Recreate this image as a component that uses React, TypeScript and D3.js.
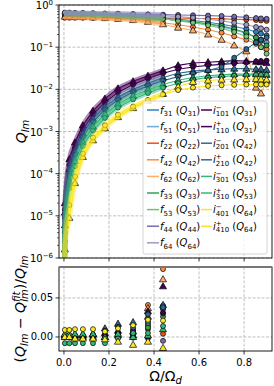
import React from "react";
import * as d3 from "d3";

// sampled rotation rates
const OMEGA = [0.004, 0.024, 0.049, 0.084, 0.129, 0.182, 0.24, 0.307, 0.373, 0.44, 0.507, 0.573, 0.64, 0.7, 0.756, 0.81, 0.853, 0.875, 0.9];
const FIT_MAX = 0.44;
const FIT_FLOOR = 1e-9;

// Q_lm of f modes
const Q_F31 = [0.6, 0.6, 0.6, 0.59, 0.58, 0.57, 0.56, 0.54, 0.52, 0.49, 0.46, 0.43, 0.39, 0.35, 0.31, 0.27, 0.23, 0.21, 0.19];
const Q_F51 = [0.62, 0.62, 0.61, 0.61, 0.6, 0.58, 0.56, 0.54, 0.51, 0.47, 0.43, 0.39, 0.35, 0.3, 0.26, 0.21, 0.17, 0.15, 0.13];
const Q_F22 = [0.5, 0.5, 0.5, 0.5, 0.5, 0.5, 0.5, 0.5, 0.5, 0.49, 0.49, 0.48, 0.48, 0.47, 0.46, 0.45, 0.44, 0.43, 0.42];
const Q_F42 = [0.52, 0.52, 0.52, 0.51, 0.5, 0.49, 0.47, 0.45, 0.42, 0.38, 0.34, 0.3, 0.26, 0.22, 0.18, 0.15, 0.12, 0.1, 0.09];
const Q_F62 = [0.53, 0.53, 0.52, 0.52, 0.51, 0.49, 0.47, 0.44, 0.4, 0.35, 0.29, 0.25, 0.2, 0.15, 0.11, 0.08, 0.011, 0.008, 0.016];
const Q_F33 = [0.61, 0.61, 0.6, 0.6, 0.59, 0.57, 0.55, 0.53, 0.5, 0.47, 0.43, 0.4, 0.36, 0.32, 0.27, 0.22, 0.17, 0.14, 0.11];
const Q_F53 = [0.63, 0.63, 0.62, 0.62, 0.61, 0.59, 0.57, 0.54, 0.51, 0.47, 0.42, 0.38, 0.33, 0.28, 0.23, 0.18, 0.13, 0.1, 0.07];
const Q_F44 = [0.64, 0.64, 0.64, 0.63, 0.63, 0.62, 0.62, 0.61, 0.6, 0.59, 0.58, 0.57, 0.56, 0.55, 0.53, 0.51, 0.49, 0.48, 0.47];
const Q_F64 = [0.66, 0.66, 0.65, 0.65, 0.64, 0.63, 0.62, 0.6, 0.58, 0.56, 0.53, 0.5, 0.46, 0.42, 0.38, 0.34, 0.3, 0.28, 0.26];

// Q_lm of inertial modes
const Q_I101 = [2.0e-5, 2.2e-4, 5.5e-4, 1.4e-3, 3.1e-3, 6.0e-3, 1.05e-2, 1.55e-2, 2.1e-2, 2.8e-2, 3.7e-2, 4.2e-2, 4.4e-2, 4.6e-2, 4.8e-2, 4.7e-2, 4.5e-2, 4.4e-2, 4.2e-2];
const Q_I110 = [1.4e-5, 1.6e-4, 4.2e-4, 1.1e-3, 2.5e-3, 4.9e-3, 8.5e-3, 1.3e-2, 1.8e-2, 2.4e-2, 3.0e-2, 3.4e-2, 3.7e-2, 3.9e-2, 4.1e-2, 4.3e-2, 4.6e-2, 4.7e-2, 4.8e-2];
const Q_I201 = [1.2e-5, 1.3e-4, 3.4e-4, 9.0e-4, 2.0e-3, 3.9e-3, 6.6e-3, 1.0e-2, 1.4e-2, 1.9e-2, 2.4e-2, 2.7e-2, 2.9e-2, 3.0e-2, 3.1e-2, 3.1e-2, 3.0e-2, 3.0e-2, 2.9e-2];
const Q_I210 = [9e-6, 1.0e-4, 2.8e-4, 7.5e-4, 1.7e-3, 3.3e-3, 5.6e-3, 8.6e-3, 1.2e-2, 1.6e-2, 2.0e-2, 2.4e-2, 2.8e-2, 3.4e-2, 5.6e-2, 9.0e-2, 1.3e-1, 1.5e-1, 1.7e-1];
const Q_I301 = [6e-6, 6.5e-5, 2.0e-4, 5.6e-4, 1.3e-3, 2.6e-3, 4.5e-3, 7.0e-3, 9.8e-3, 1.3e-2, 1.65e-2, 1.9e-2, 2.1e-2, 2.2e-2, 2.3e-2, 2.3e-2, 2.3e-2, 2.3e-2, 2.2e-2];
const Q_I310 = [4e-6, 4.5e-5, 1.5e-4, 4.5e-4, 1.05e-3, 2.1e-3, 3.7e-3, 5.8e-3, 8.2e-3, 1.1e-2, 1.4e-2, 1.7e-2, 1.9e-2, 2.0e-2, 2.1e-2, 2.15e-2, 2.2e-2, 2.2e-2, 2.2e-2];
const Q_I401 = [1.6e-6, 9e-6, 6e-5, 2.5e-4, 6.2e-4, 1.2e-3, 2.2e-3, 3.6e-3, 5.4e-3, 7.8e-3, 1.15e-2, 1.5e-2, 1.62e-2, 1.7e-2, 1.72e-2, 1.75e-2, 1.75e-2, 1.72e-2, 1.7e-2];
const Q_I410 = [2.5e-6, 1.8e-5, 8.5e-5, 3.0e-4, 7.2e-4, 1.4e-3, 2.5e-3, 3.9e-3, 5.6e-3, 7.6e-3, 9.6e-3, 1.1e-2, 1.2e-2, 1.25e-2, 1.28e-2, 1.3e-2, 1.3e-2, 1.3e-2, 1.3e-2];

// relative residuals of the fit, first 10 rotation rates
const R_F31 = [0, 0, 0, 0, 0, 0, 0.001, 0.004, 0.014, 0.04];
const R_F51 = [0, 0, 0, 0, 0, 0, 0.001, 0.005, 0.016, 0.036];
const R_F22 = [0, 0, 0, 0, 0, 0, 0, 0.003, 0.01, 0.004];
const R_F42 = [0, 0, 0, 0, 0, 0.001, 0.003, 0.009, 0.041, 0.087];
const R_F62 = [0, 0, 0, 0, 0, 0, 0.002, 0.007, 0.037, 0.074];
const R_F33 = [0, 0, 0, 0, 0, 0, 0.001, 0.003, 0.012, 0.026];
const R_F53 = [0, 0, 0, 0, 0, 0, 0.001, 0.004, 0.018, 0.03];
const R_F44 = [0, 0, 0, 0, 0, 0, 0, -0.001, -0.002, -0.005];
const R_F64 = [0, 0, 0, 0, 0, 0, 0.001, 0.004, 0.02, 0.036];
const R_I101 = [0.002, 0.002, 0.002, 0.002, 0.003, 0.005, 0.008, 0.002, 0.033, 0.065];
const R_I110 = [0, 0, 0, 0.001, 0.001, 0.002, 0.004, 0.008, 0, 0.031];
const R_I201 = [0.003, 0.003, 0.003, 0.003, 0.004, 0.011, 0.017, 0.019, 0.026, 0.041];
const R_I210 = [0.001, 0.001, 0.002, 0.002, 0.003, 0.008, 0.013, 0.012, 0.029, 0.038];
const R_I301 = [0.004, 0.004, 0.004, 0.004, 0.004, 0, 0.004, 0, 0.002, 0.01];
const R_I310 = [-0.008, -0.008, -0.008, -0.008, -0.008, -0.008, -0.002, 0.005, 0.005, 0.014];
const R_I401 = [0, 0, -0.002, -0.002, -0.002, -0.003, -0.006, -0.01, -0.006, -0.014];
const R_I410 = [0.009, 0.009, 0.01, 0.01, 0.01, 0.007, 0.011, 0.015, 0.022, 0.021];

const X_TICKS = [0, 0.2, 0.4, 0.6, 0.8];
const LOG_TICKS = [0, -1, -2, -3, -4, -5, -6];
const RES_TICKS = [0, 0.05];

type Series = {
  kind: "f" | "i";
  lm: string;
  q: string;
  sign?: string;
  color: string;
  shape: "circle" | "triangle";
  values: number[];
  resid: number[];
};

const F_SERIES: Series[] = [
  { kind: "f", lm: "31", q: "31", color: "#3182bd", shape: "circle", values: Q_F31, resid: R_F31 },
  { kind: "f", lm: "51", q: "51", color: "#6baed6", shape: "circle", values: Q_F51, resid: R_F51 },
  { kind: "f", lm: "22", q: "22", color: "#e6550d", shape: "circle", values: Q_F22, resid: R_F22 },
  { kind: "f", lm: "42", q: "42", color: "#fd8d3c", shape: "circle", values: Q_F42, resid: R_F42 },
  { kind: "f", lm: "62", q: "62", color: "#fdae6b", shape: "triangle", values: Q_F62, resid: R_F62 },
  { kind: "f", lm: "33", q: "33", color: "#31a354", shape: "circle", values: Q_F33, resid: R_F33 },
  { kind: "f", lm: "53", q: "53", color: "#74c476", shape: "circle", values: Q_F53, resid: R_F53 },
  { kind: "f", lm: "44", q: "44", color: "#756bb1", shape: "circle", values: Q_F44, resid: R_F44 },
  { kind: "f", lm: "64", q: "64", color: "#9e9ac8", shape: "circle", values: Q_F64, resid: R_F64 },
];

const I_SERIES: Series[] = [
  { kind: "i", lm: "101", q: "31", sign: "−", color: "#440154", shape: "triangle", values: Q_I101, resid: R_I101 },
  { kind: "i", lm: "110", q: "31", sign: "+", color: "#440154", shape: "circle", values: Q_I110, resid: R_I110 },
  { kind: "i", lm: "201", q: "42", sign: "−", color: "#31688e", shape: "triangle", values: Q_I201, resid: R_I201 },
  { kind: "i", lm: "210", q: "42", sign: "+", color: "#31688e", shape: "circle", values: Q_I210, resid: R_I210 },
  { kind: "i", lm: "301", q: "53", sign: "−", color: "#35b779", shape: "triangle", values: Q_I301, resid: R_I301 },
  { kind: "i", lm: "310", q: "53", sign: "+", color: "#35b779", shape: "circle", values: Q_I310, resid: R_I310 },
  { kind: "i", lm: "401", q: "64", sign: "−", color: "#fde725", shape: "triangle", values: Q_I401, resid: R_I401 },
  { kind: "i", lm: "410", q: "64", sign: "+", color: "#fde725", shape: "circle", values: Q_I410, resid: R_I410 },
];

const ALL = [...F_SERIES, ...I_SERIES];

const W = 274;
const H = 386;
const LEFT = 59;
const RIGHT = 272;
const TOP1 = 5;
const BOT1 = 258;
const TOP2 = 267;
const BOT2 = 351;
const FONT = "DejaVu Sans, sans-serif";

const x = d3.scaleLinear().domain([-0.022, 0.924]).range([LEFT, RIGHT]);
const yTop = d3.scaleLog().domain([1e-6, 1]).range([BOT1, TOP1]);
const yRes = d3.scaleLinear().domain([-0.018, 0.0897]).range([BOT2, TOP2]);

const triPath = d3.symbol().type(d3.symbolTriangle).size(22)() as string;

const Marker = ({ cx, cy, color, shape }: { cx: number; cy: number; color: string; shape: string }) =>
  shape === "circle" ? (
    <circle cx={cx} cy={cy} r={2.5} fill={color} stroke="#000" strokeWidth={0.7} />
  ) : (
    <path d={triPath} transform={`translate(${cx},${cy + 0.5})`} fill={color} stroke="#000" strokeWidth={0.7} />
  );

const FLabel = ({ x0, y0, s }: { x0: number; y0: number; s: Series }) => (
  <text x={x0} y={y0} fontSize={10} fontFamily={FONT} style={{ whiteSpace: "pre" }}>
    <tspan fontStyle="italic">f</tspan>
    <tspan fontSize={7} dy={2.5}>{s.lm}</tspan>
    <tspan dy={-2.5}> (</tspan>
    <tspan fontStyle="italic">Q</tspan>
    <tspan fontSize={7} dy={2.5}>{s.q}</tspan>
    <tspan dy={-2.5}>)</tspan>
  </text>
);

const ILabel = ({ x0, y0, s }: { x0: number; y0: number; s: Series }) => (
  <text x={x0} y={y0} fontSize={10} fontFamily={FONT} style={{ whiteSpace: "pre" }}>
    <tspan fontStyle="italic">i</tspan>
    <tspan fontSize={7} dy={-4}>{s.sign}</tspan>
    <tspan fontSize={7} dx={-5.9} dy={6.5}>{s.lm}</tspan>
    <tspan dy={-2.5}> (</tspan>
    <tspan fontStyle="italic">Q</tspan>
    <tspan fontSize={7} dy={2.5}>{s.q}</tspan>
    <tspan dy={-2.5}>)</tspan>
  </text>
);

const App = () => {
  const dataLine = d3
    .line<[number, number]>()
    .x((d) => x(d[0]))
    .y((d) => yTop(d[1]));
  const fitLine = d3
    .line<[number, number]>()
    .x((d) => x(d[0]))
    .y((d) => yTop(d[1]))
    .curve(d3.curveMonotoneX);

  const pts = (s: Series) => OMEGA.map((o, i) => [o, s.values[i]] as [number, number]);
  const fitPts = (s: Series) => {
    const inRange = pts(s).filter((p) => p[0] <= FIT_MAX);
    const start: [number, number] = [0, s.kind === "i" ? FIT_FLOOR : s.values[0]];
    return [start, ...inRange];
  };

  const minor: number[] = [];
  for (let k = -6; k < 0; k++) for (let m = 2; m <= 9; m++) minor.push(m * Math.pow(10, k));

  const grid = { stroke: "#b0b0b0", strokeWidth: 0.8, strokeDasharray: "3,1.5" };

  const rowY = (i: number) => 110 + i * 16.6;

  return (
    <svg width={W} height={H} style={{ position: "absolute", left: 0, top: 0, background: "#fff" }}>
      <defs>
        <clipPath id="clipTop">
          <rect x={LEFT} y={TOP1} width={RIGHT - LEFT} height={BOT1 - TOP1} />
        </clipPath>
        <clipPath id="clipBot">
          <rect x={LEFT} y={TOP2} width={RIGHT - LEFT} height={BOT2 - TOP2} />
        </clipPath>
      </defs>

      {/* grid */}
      {X_TICKS.map((t) => (
        <g key={"gx" + t}>
          <line x1={x(t)} x2={x(t)} y1={TOP1} y2={BOT1} {...grid} />
          <line x1={x(t)} x2={x(t)} y1={TOP2} y2={BOT2} {...grid} />
        </g>
      ))}
      {LOG_TICKS.map((k) => (
        <line key={"gy" + k} x1={LEFT} x2={RIGHT} y1={yTop(Math.pow(10, k))} y2={yTop(Math.pow(10, k))} {...grid} />
      ))}
      {RES_TICKS.map((t) => (
        <line key={"gr" + t} x1={LEFT} x2={RIGHT} y1={yRes(t)} y2={yRes(t)} {...grid} />
      ))}

      {/* top panel */}
      <g clipPath="url(#clipTop)">
        {ALL.map((s, i) => (
          <path key={"dl" + i} d={dataLine(pts(s)) as string} fill="none" stroke={s.color} strokeWidth={1.1} />
        ))}
        {ALL.map((s, i) =>
          pts(s).map((p, j) => (
            <Marker key={"m" + i + "-" + j} cx={x(p[0])} cy={yTop(p[1])} color={s.color} shape={s.shape} />
          ))
        )}
        {ALL.map((s, i) => (
          <path
            key={"fl" + i}
            d={fitLine(fitPts(s)) as string}
            fill="none"
            stroke={s.color}
            strokeWidth={5}
            strokeOpacity={0.45}
          />
        ))}
      </g>

      {/* residual panel */}
      <g clipPath="url(#clipBot)">
        {ALL.map((s, i) =>
          s.resid.map((r, j) => (
            <Marker key={"r" + i + "-" + j} cx={x(OMEGA[j])} cy={yRes(r)} color={s.color} shape={s.shape} />
          ))
        )}
      </g>

      {/* frames */}
      <rect x={LEFT} y={TOP1} width={RIGHT - LEFT} height={BOT1 - TOP1} fill="none" stroke="#000" strokeWidth={0.9} />
      <rect x={LEFT} y={TOP2} width={RIGHT - LEFT} height={BOT2 - TOP2} fill="none" stroke="#000" strokeWidth={0.9} />
      <line x1={LEFT} x2={RIGHT} y1={TOP2} y2={TOP2} stroke="#777" strokeWidth={2} />

      {/* x ticks */}
      {X_TICKS.map((t) => (
        <g key={"xt" + t}>
          <line x1={x(t)} x2={x(t)} y1={BOT1} y2={BOT1 + 3.5} stroke="#000" strokeWidth={0.8} />
          <line x1={x(t)} x2={x(t)} y1={BOT2} y2={BOT2 + 3.5} stroke="#000" strokeWidth={0.8} />
          <text x={x(t)} y={366} textAnchor="middle" fontSize={10} fontFamily={FONT}>
            {t.toFixed(1)}
          </text>
        </g>
      ))}

      {/* log y ticks */}
      {LOG_TICKS.map((k) => (
        <g key={"yt" + k}>
          <line x1={LEFT - 3.5} x2={LEFT} y1={yTop(Math.pow(10, k))} y2={yTop(Math.pow(10, k))} stroke="#000" strokeWidth={0.8} />
          <text x={LEFT - 6} y={yTop(Math.pow(10, k)) + 4} textAnchor="end" fontSize={10} fontFamily={FONT}>
            10
            <tspan fontSize={7} dy={-4.5}>
              {k === 0 ? "0" : "−" + -k}
            </tspan>
          </text>
        </g>
      ))}
      {minor.map((v) => (
        <line key={"mn" + v} x1={LEFT - 2} x2={LEFT} y1={yTop(v)} y2={yTop(v)} stroke="#000" strokeWidth={0.6} />
      ))}

      {/* residual y ticks */}
      {RES_TICKS.map((t) => (
        <g key={"rt" + t}>
          <line x1={LEFT - 3.5} x2={LEFT} y1={yRes(t)} y2={yRes(t)} stroke="#000" strokeWidth={0.8} />
          <text x={LEFT - 6} y={yRes(t) + 3.5} textAnchor="end" fontSize={10} fontFamily={FONT}>
            {t.toFixed(2)}
          </text>
        </g>
      ))}

      {/* axis labels */}
      <text transform={`translate(26,${(TOP1 + BOT1) / 2}) rotate(-90)`} textAnchor="middle" fontSize={14} fontFamily={FONT}>
        <tspan fontStyle="italic">Q</tspan>
        <tspan fontStyle="italic" fontSize={10} dy={3}>lm</tspan>
      </text>
      <text
        transform={`translate(25,${(TOP2 + BOT2) / 2}) rotate(-90)`}
        textAnchor="middle"
        fontSize={14}
        fontFamily={FONT}
        style={{ whiteSpace: "pre" }}
      >
        (<tspan fontStyle="italic">Q</tspan>
        <tspan fontStyle="italic" fontSize={10} dy={3}>lm</tspan>
        <tspan dy={-3}> − </tspan>
        <tspan fontStyle="italic">Q</tspan>
        <tspan fontStyle="italic" fontSize={10} dy={-5}>fit</tspan>
        <tspan fontStyle="italic" fontSize={10} dx={-10.2} dy={8}>lm</tspan>
        <tspan dy={-3}>)/</tspan>
        <tspan fontStyle="italic">Q</tspan>
        <tspan fontStyle="italic" fontSize={10} dy={3}>lm</tspan>
      </text>
      <text x={(LEFT + RIGHT) / 2} y={381} textAnchor="middle" fontSize={14} fontFamily={FONT}>
        Ω/Ω<tspan fontStyle="italic" fontSize={10} dy={3}>d</tspan>
      </text>

      {/* legend */}
      <rect x={143} y={101} width={124} height={153} rx={2} fill="#fff" fillOpacity={0.8} stroke="#ccc" strokeWidth={0.8} />
      {F_SERIES.map((s, i) => (
        <g key={"lf" + i}>
          <line x1={147} x2={159} y1={rowY(i)} y2={rowY(i)} stroke={s.color} strokeWidth={1.5} />
          <FLabel x0={160} y0={rowY(i) + 3.5} s={s} />
        </g>
      ))}
      {I_SERIES.map((s, i) => (
        <g key={"li" + i}>
          <line x1={201} x2={212} y1={rowY(i)} y2={rowY(i)} stroke={s.color} strokeWidth={1.5} />
          <ILabel x0={213} y0={rowY(i) + 3.5} s={s} />
        </g>
      ))}
    </svg>
  );
};

export default App;
